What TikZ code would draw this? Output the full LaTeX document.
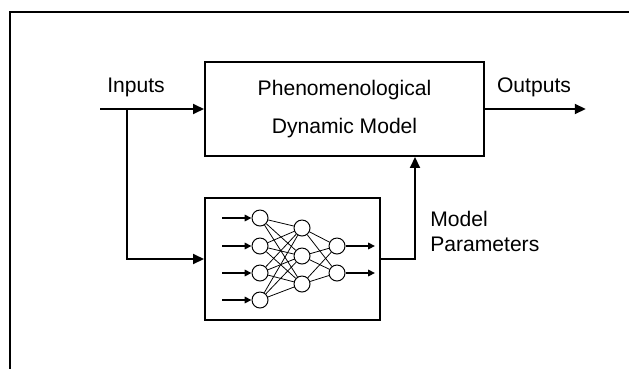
\documentclass[tikz,border=0pt]{standalone}
\usepackage{fontspec}
\setmainfont{Liberation Sans}
\usetikzlibrary{arrows.meta}

\begin{document}
\begin{tikzpicture}[x=0.025cm,y=-0.025cm,
        font=\fontsize{15}{18}\selectfont,
        block/.style={draw,line width=1.05pt,inner sep=0pt},
        flow/.style={line width=2.1pt,-{Triangle[length=0.28cm,width=0.24cm]}},
        neuron/.style={draw,circle,line width=0.7pt,minimum size=0.4cm,inner sep=0pt},
        link/.style={line width=0.55pt},
        feed/.style={line width=2.1pt,-{Triangle[length=0.17cm,width=0.16cm]}}]
    \useasboundingbox (0,0) rectangle (629,368);
    \draw[line width=0.8pt] (10,12) rectangle (660,400);

    % blocks
    \node[block,minimum width=6.975cm,minimum height=2.35cm,align=center,
        font=\fontsize{15}{27}\selectfont] (model) at (344.5,109) {Phenomenological\\Dynamic Model};
    \node[block,minimum width=4.375cm,minimum height=3.05cm] (nn) at (292.5,259) {};

    % labels
    \node (inlab) at (136,87) {Inputs};
    \node (outlab) at (534,87) {Outputs};
    \node[anchor=west,align=left,inner sep=0pt,font=\fontsize{15}{17.8}\selectfont] (parlab) at (430,231) {Model\\Parameters};

    % signal flow
    \coordinate (in) at (100,109);
    \coordinate (split) at (127,109);
    \coordinate (out) at (586,109);
    \coordinate (up) at (415,259);
    \draw[flow] (in) -- (model.west);
    \draw[flow] (split) |- (nn.west);
    \draw[flow] (model.east) -- (out);
    \draw[flow] (nn.east) -- (up) -- (up |- model.south);

    % network inside the lower block
    \foreach \y [count=\k] in {218,246,273,300} {
        \node[neuron] (i\k) at (260,\y) {};
        \coordinate (a\k) at (222,\y);
        \draw[feed] (a\k) -- (i\k);
    }
    \foreach \y [count=\k] in {228,256,284}
        \node[neuron] (h\k) at (302,\y) {};
    \foreach \y [count=\k] in {246,273} {
        \node[neuron] (o\k) at (337,\y) {};
        \coordinate (b\k) at (375,\y);
        \draw[feed] (o\k) -- (b\k);
    }
    \foreach \i in {1,...,4}
        \foreach \j in {1,2,3}
            \draw[link] (i\i) -- (h\j);
    \foreach \j in {1,2,3}
        \foreach \k in {1,2}
            \draw[link] (h\j) -- (o\k);
\end{tikzpicture}
\end{document}
